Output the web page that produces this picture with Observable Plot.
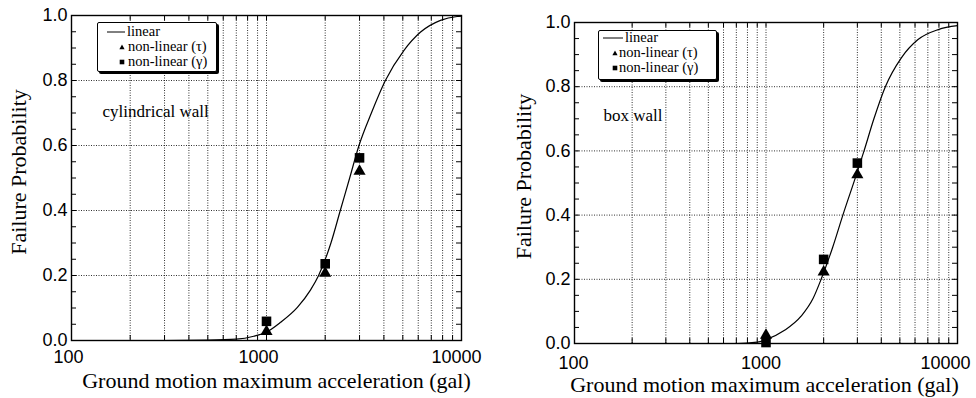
<!DOCTYPE html>
<html><head><meta charset="utf-8">
<script src="https://cdn.jsdelivr.net/npm/d3@7"></script>
<script src="https://cdn.jsdelivr.net/npm/@observablehq/plot@0.6"></script>
<style>
html,body{margin:0;padding:0;background:#fff;}
#wrap{position:relative;width:976px;height:398px;overflow:hidden;background:#fff;}
.panel{position:absolute;top:0;}
.legend{position:absolute;box-sizing:border-box;background:#fff;border:1px solid #000;box-shadow:2px 2px 0 #000;border-radius:2px;font-family:"Liberation Serif","Times New Roman",serif;font-size:14.5px;color:#000;}
.legend .t{position:absolute;white-space:nowrap;line-height:12px;height:12px;}
.legend svg{position:absolute;overflow:visible;}
</style></head><body><div id="wrap"></div>
<script>
// ---- data ----
const xTickLabels = [100, 1000, 10000];
const yTickLabels = [0, 0.2, 0.4, 0.6, 0.8, 1.0];
const xGrid = [200, 300, 400, 500, 600, 700, 800, 900, 1000, 2000, 3000, 4000, 5000, 6000, 7000, 8000, 9000];
const yGrid = [0.2, 0.4, 0.6, 0.8];
const yMinor = [0.05, 0.1, 0.15, 0.2, 0.25, 0.3, 0.35, 0.4, 0.45, 0.5, 0.55, 0.6, 0.65, 0.7, 0.75, 0.8, 0.85, 0.9, 0.95];
const xTitle = "Ground motion maximum acceleration (gal)";
const yTitle = "Failure Probability";
const legendLabels = ["linear", "non-linear (τ)", "non-linear (γ)"];

const accel = [1000, 2000, 3000];
const cylTau = [0.028, 0.207, 0.521];
const cylGamma = [0.059, 0.236, 0.562];
const boxTau = [0.026, 0.223, 0.526];
const boxGamma = [0.003, 0.262, 0.562];

const cylLinearX = [100, 300, 500, 700, 860, 1000, 1180, 1440, 1680, 1850, 2140, 2390, 2670, 2980, 3450, 4070, 5060, 6170, 7800, 9500, 10000];
const cylLinearP = [0, 0, 0.001, 0.004, 0.013, 0.026, 0.056, 0.102, 0.155, 0.2, 0.3, 0.4, 0.5, 0.6, 0.7, 0.8, 0.892, 0.949, 0.985, 0.997, 0.998];
const boxLinearX = [100, 700, 900, 1000, 1250, 1525, 1760, 1940, 2230, 2520, 2980, 3250, 3660, 4200, 5090, 6220, 7930, 10000];
const boxLinearP = [0, 0, 0.004, 0.012, 0.041, 0.085, 0.14, 0.2, 0.3, 0.4, 0.53, 0.6, 0.7, 0.8, 0.89, 0.947, 0.978, 0.99];

// ---- drawing ----
const SANS = "'Liberation Sans', Arial, Helvetica, sans-serif";
const SERIF = "'Liberation Serif', 'Times New Roman', serif";

function makePanel(c) {
  const fw = c.width - c.mL - c.mR, fh = c.height - c.mT - c.mB;
  const lin = c.linX.map((x, i) => ({x, p: c.linP[i]}));
  const tau = accel.map((x, i) => ({x, p: c.tau[i]}));
  const gam = accel.map((x, i) => ({x, p: c.gamma[i]}));
  const grid = {stroke: "#000", strokeOpacity: 0.9, strokeWidth: 0.9, strokeDasharray: "1,1.5"};
  return Plot.plot({
    width: c.width, height: c.height,
    marginLeft: c.mL, marginRight: c.mR, marginTop: c.mT, marginBottom: c.mB,
    x: {type: "log", domain: [100, 10000], axis: null},
    y: {domain: [0, 1], axis: null},
    style: {fontFamily: SANS, fontSize: "18px", background: "transparent", color: "#000", overflow: "visible"},
    marks: [
      Plot.ruleX(xGrid, {x: d => d, ...grid}),
      Plot.ruleY(yGrid, {y: d => d, ...grid}),
      Plot.tickY(yMinor, {y: d => d, insetRight: fw - 5, stroke: "#000"}),
      Plot.tickY(yMinor, {y: d => d, insetLeft: fw - 5, stroke: "#000"}),
      Plot.tickX(xGrid, {x: d => d, insetBottom: fh - 5, stroke: "#000"}),
      Plot.tickX(xGrid, {x: d => d, insetTop: fh - 5, stroke: "#000"}),
      Plot.frame({stroke: "#000", strokeWidth: 1.4}),
      Plot.line(lin, {x: "x", y: "p", curve: "monotone-x", stroke: "#000", strokeWidth: 1.2}),
      Plot.dot(gam, {x: "x", y: "p", symbol: "square", r: 5.4, fill: "#000"}),
      Plot.dot(tau, {x: "x", y: "p", symbol: "triangle", r: 4.5, fill: "#000"}),
      Plot.text(yTickLabels, {y: d => d, frameAnchor: "left", textAnchor: "end", dx: -4, text: d => d.toFixed(1), fontSize: 18, lineAnchor: "middle", fill: "#000"}),
      ...xTickLabels.map((v, i) => Plot.text([v], {x: d => d, frameAnchor: "bottom", dy: c.xLabDy, dx: c.xLabDx[i], text: d => String(d), fontSize: 18, lineAnchor: "middle", fill: "#000"})),
      Plot.text([xTitle], {text: d => d, frameAnchor: "bottom", dx: c.xtDx, dy: c.xtDy, lineAnchor: "bottom", fontFamily: SERIF, fontSize: 22, fill: "#000"}),
      Plot.text([yTitle], {text: d => d, frameAnchor: "left", rotate: -90, dx: c.ytDx, dy: c.ytDy, lineAnchor: "middle", textAnchor: "middle", fontFamily: SERIF, fontSize: 22, fill: "#000"}),
      Plot.text([c.name], {text: d => d, frameAnchor: "top-left", dx: c.nDx, dy: c.nDy, textAnchor: "start", lineAnchor: "bottom", fontFamily: SERIF, fontSize: 17, fill: "#000"})
    ]
  });
}

function makeLegend(c) {
  const box = document.createElement("div");
  box.className = "legend";
  Object.assign(box.style, {left: c.left + "px", top: c.top + "px", width: c.w + "px", height: c.h + "px"});
  legendLabels.forEach((lab, i) => {
    const cy = c.rows[i] - 1;
    const s = document.createElementNS("http://www.w3.org/2000/svg", "svg");
    s.setAttribute("width", "1"); s.setAttribute("height", "1");
    s.style.left = "0px"; s.style.top = "0px";
    if (i === 0) {
      s.innerHTML = `<line x1="${c.lineX0 - 1}" x2="${c.lineX1 - 1}" y1="${cy}" y2="${cy}" stroke="#000" stroke-width="1"/>`;
    } else if (i === 1) {
      const mx = c.markX - 1;
      s.innerHTML = `<polygon points="${mx - 2.6},${cy + 2.2} ${mx + 2.6},${cy + 2.2} ${mx},${cy - 2.6}" fill="#000"/>`;
    } else {
      const mx = c.markX - 1;
      s.innerHTML = `<rect x="${mx - 2.3}" y="${cy - 2.3}" width="4.6" height="4.6" fill="#000"/>`;
    }
    box.appendChild(s);
    const t = document.createElement("div");
    t.className = "t";
    t.textContent = lab;
    t.style.left = (i === 0 ? c.textX0 : c.textX1) - 1 + "px";
    t.style.top = (cy - 7) + "px";
    box.appendChild(t);
  });
  return box;
}

const wrap = document.getElementById("wrap");
const left = makePanel({
  width: 488, height: 398, mL: 71, mR: 27, mT: 15, mB: 58,
  linX: cylLinearX, linP: cylLinearP, tau: cylTau, gamma: cylGamma,
  xLabDx: [-3, -8, -5], xLabDy: 17, xtDx: 10, xtDy: 47, ytDx: -52.5, ytDy: -6,
  name: "cylindrical wall", nDx: 31, nDy: 101
});
left.classList.add("panel"); left.style.left = "0px";
const right = makePanel({
  width: 488, height: 398, mL: 86, mR: 19, mT: 22, mB: 55,
  linX: boxLinearX, linP: boxLinearP, tau: boxTau, gamma: boxGamma,
  xLabDx: [-1, -5, -12], xLabDy: 20, xtDx: -1.5, xtDy: 48, ytDx: -50.5, ytDy: -6.5,
  name: "box wall", nDx: 29, nDy: 98
});
right.classList.add("panel"); right.style.left = "488px";
wrap.appendChild(left);
wrap.appendChild(right);
wrap.appendChild(makeLegend({left: 97, top: 22, w: 120, h: 50, rows: [10, 25, 40], lineX0: 10, lineX1: 28, textX0: 30, textX1: 31, markX: 25}));
wrap.appendChild(makeLegend({left: 598, top: 30, w: 119, h: 50, rows: [8, 23, 38], lineX0: 5, lineX1: 25, textX0: 27, textX1: 21, markX: 17}));
</script></body></html>
